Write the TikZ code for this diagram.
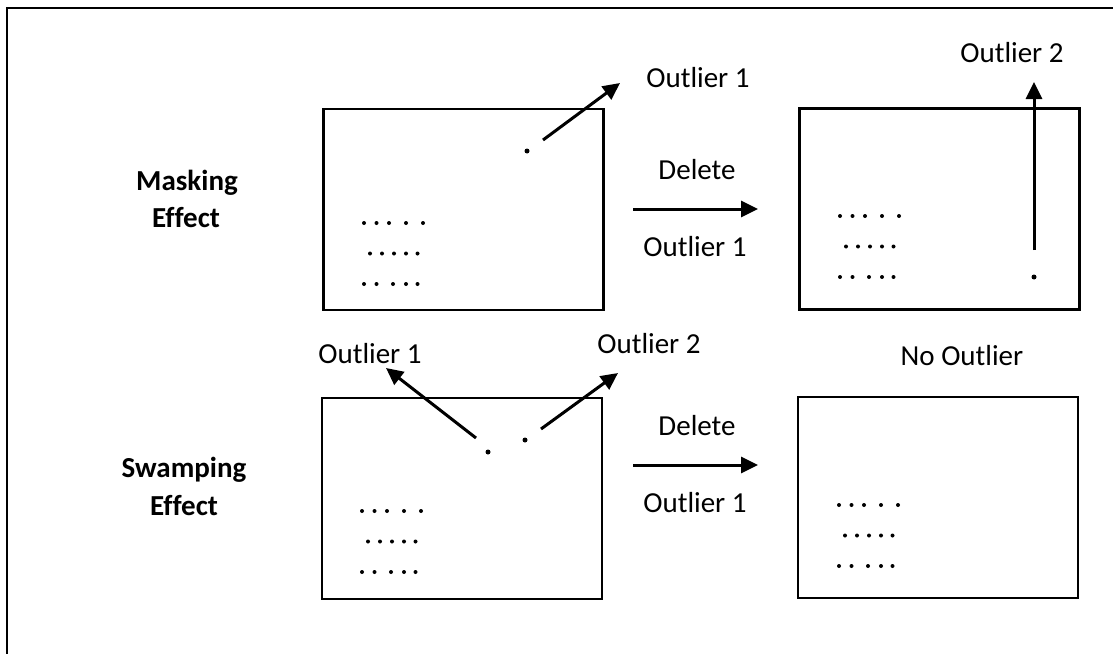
\documentclass[tikz,border=0pt]{standalone}
\usepackage{fontspec}
\setmainfont{Carlito}[Ligatures=NoCommon]
\usetikzlibrary{arrows.meta}
\newcommand\dotcluster[2]{%
  \foreach \dx in {0,12.5,25,42,59} \fill (#1+\dx,#2) circle (2pt);
  \foreach \dx in {6,18,30,42,53.5} \fill (#1+\dx,#2+30.5) circle (2pt);
  \foreach \dx in {0,12.5,29,42,53.5} \fill (#1+\dx,#2+61) circle (2pt);
}
\begin{document}
\begin{tikzpicture}[x=1pt,y=-1pt,
  box/.style={draw, line width=2.6pt, inner sep=0pt, minimum width=280pt, minimum height=201pt},
  lab/.style={font=\fontsize{29}{35}\selectfont, inner sep=0pt, anchor=base},
  blab/.style={font=\fontsize{29}{35}\selectfont\bfseries, inner sep=0pt, anchor=base},
  arr/.style={line width=3pt, -{Triangle[length=17pt,width=16pt]}},
  outdot/.style={circle, fill, inner sep=0pt, minimum size=5pt}]
\useasboundingbox (0,0) rectangle (1113,653);
% frame
\draw[line width=2.2pt] (1120,8) -- (7,8) -- (7,660);
% boxes
\node[box] (b1) at (463.5,209.5) {};
\node[box] (b2) at (939.5,209) {};
\node[box] (b3) at (462,498.5) {};
\node[box] (b4) at (938,497.5) {};
% clusters
\dotcluster{364}{223}
\dotcluster{840}{216}
\dotcluster{362}{511}
\dotcluster{839}{505}
% outlier dots
\node[outdot] (o1) at (527,151) {};
\node[outdot] (o2) at (1034,277) {};
\node[outdot] (o3) at (488,452) {};
\node[outdot] (o4) at (525,440) {};
% labels
\node[blab] (m1) at (187,190) {Masking};
\node[blab] (m2) at (186,227) {Effect};
\node[blab] (s1) at (184,477) {Swamping};
\node[blab] (s2) at (184,515) {Effect};
\node[lab] (t1) at (698,87) {Outlier 1};
\node[lab] (t2) at (1012,62) {Outlier 2};
\node[lab] (d1) at (697,179) {Delete};
\node[lab] (u1) at (695,256) {Outlier 1};
\node[lab] (t3) at (370,363) {Outlier 1};
\node[lab] (t4) at (649,353) {Outlier 2};
\node[lab] (t5) at (962,365) {No Outlier};
\node[lab] (d2) at (697,435) {Delete};
\node[lab] (u2) at (695,512) {Outlier 1};
% arrow coordinates
\coordinate (a1s) at (543,140); \coordinate (a1e) at (620,83);
\coordinate (a2s) at (1034,250); \coordinate (a2e) at (1034,82);
\coordinate (a3s) at (476,438); \coordinate (a3e) at (386,368);
\coordinate (a4s) at (541,429); \coordinate (a4e) at (618,373);
\coordinate (h1s) at (633,209); \coordinate (h1e) at (758,209);
\coordinate (h2s) at (633,465); \coordinate (h2e) at (758,465);
\draw[arr] (a1s) -- (a1e);
\draw[arr] (a2s) -- (a2e);
\draw[arr] (a3s) -- (a3e);
\draw[arr] (a4s) -- (a4e);
\draw[arr] (h1s) -- (h1e);
\draw[arr] (h2s) -- (h2e);
\end{tikzpicture}
\end{document}
